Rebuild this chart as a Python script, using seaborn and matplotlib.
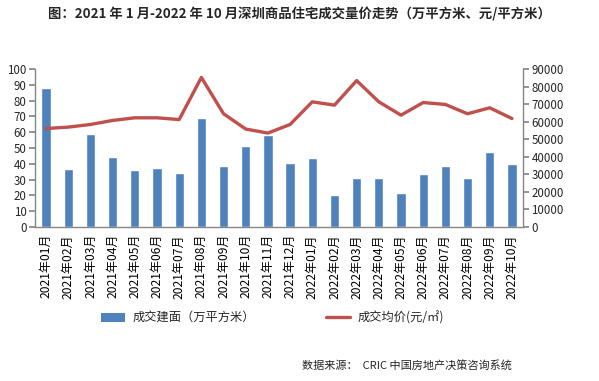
import numpy as np
import pandas as pd
import matplotlib
matplotlib.use("Agg")
import matplotlib.pyplot as plt
import seaborn as sns
from matplotlib.patches import Patch
from matplotlib.lines import Line2D

months = ["2021年01月", "2021年02月", "2021年03月", "2021年04月", "2021年05月", "2021年06月",
          "2021年07月", "2021年08月", "2021年09月", "2021年10月", "2021年11月", "2021年12月",
          "2022年01月", "2022年02月", "2022年03月", "2022年04月", "2022年05月", "2022年06月",
          "2022年07月", "2022年08月", "2022年09月", "2022年10月"]
area = [88.2, 36.5, 59.0, 44.0, 35.8, 37.6, 34.0, 69.0, 38.3, 51.5, 58.5, 40.8,
        43.7, 20.3, 31.0, 31.0, 21.5, 33.6, 38.7, 31.0, 47.6, 39.9]
price = [56100, 56900, 58400, 60700, 62200, 62200, 61200, 85200, 64500, 55800, 53500, 58400,
         71300, 69400, 83400, 71300, 63700, 70900, 69800, 64500, 67900, 61800]

title = "图：2021 年 1 月-2022 年 10 月深圳商品住宅成交量价走势（万平方米、元/平方米）"
bar_label = "成交建面（万平方米）"
line_label = "成交均价(元/㎡)"
source = "数据来源：  CRIC 中国房地产决策咨询系统"

sns.set_theme(style="white")
plt.rcParams['font.family'] = ['Noto Sans CJK SC', 'DejaVu Sans']

bar_color = "#4F81BD"
line_color = "#C0504D"
axis_color = "#868686"

df = pd.DataFrame({"month": months, "area": area, "price": price, "idx": np.arange(len(months))})

fig = plt.figure(figsize=(5.99, 3.81), dpi=100)
ax = fig.add_axes([35 / 599, 1 - 227 / 381, (523 - 35) / 599, (227 - 69) / 381])
sns.barplot(data=df, x="month", y="area", color=bar_color, width=0.42, ax=ax, saturation=1)
ax2 = ax.twinx()
sns.lineplot(data=df, x="idx", y="price", color=line_color, linewidth=2.4, ax=ax2)

n = len(months)
ax.set_xlim(-0.5, n - 0.5)
ax.set_ylim(0, 100)
ax2.set_ylim(0, 90000)
ax.set_yticks(np.arange(0, 101, 10))
ax2.set_yticks(np.arange(0, 90001, 10000))
ax.set_xlabel("")
ax.set_ylabel("")
ax2.set_xlabel("")
ax2.set_ylabel("")

ax.set_xticks(np.arange(n))
ax.set_xticklabels(months, rotation=90, fontsize=8.7)
ax.set_xticks(np.arange(-0.5, n, 1), minor=True)
ax.tick_params(axis="x", which="major", length=0, pad=5, colors="black")
ax.tick_params(axis="x", which="minor", length=4, color=axis_color, direction="out")
ax.tick_params(axis="y", length=4, color=axis_color, direction="out", labelsize=8.3, pad=2)
ax2.tick_params(axis="y", length=4, color=axis_color, direction="out", labelsize=8.3, pad=2)

for a in (ax, ax2):
    a.spines["top"].set_visible(False)
    for s in ("left", "right", "bottom"):
        a.spines[s].set_color(axis_color)
        a.spines[s].set_linewidth(1.0)
ax.spines["right"].set_visible(False)
ax2.spines["left"].set_visible(False)
ax2.spines["bottom"].set_visible(False)
ax.grid(False)
ax2.grid(False)

fig.text(0.5, 1 - 14 / 381, title, ha="center", va="center", fontsize=9.6, fontweight="bold")

handles = [Patch(facecolor=bar_color, edgecolor="none"),
           Line2D([0], [0], color=line_color, linewidth=2.4)]
fig.legend(handles, [bar_label, line_label], loc="center", bbox_to_anchor=(0.455, 1 - 318 / 381),
           ncol=2, frameon=False, fontsize=8.8, columnspacing=5.8, handlelength=2.0,
           handletextpad=0.6)

fig.text(512 / 599, 1 - 365 / 381, source, ha="right", va="center", fontsize=8)

fig.savefig("out.png", dpi=100)
